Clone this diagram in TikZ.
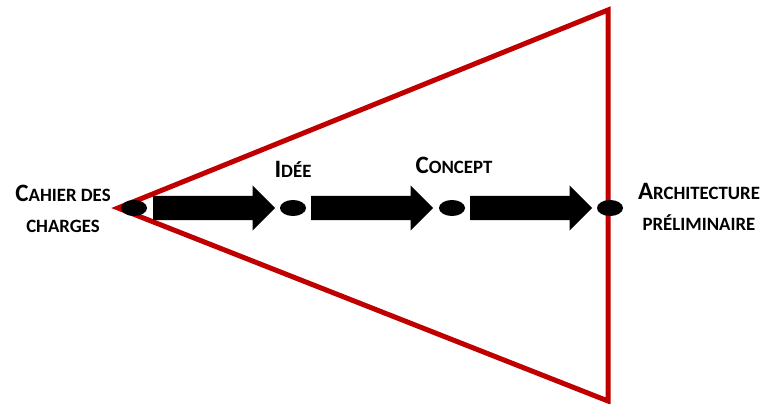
\documentclass[tikz,border=0pt]{standalone}
\usepackage{fontspec}
\setmainfont{Carlito}
\usepackage{xcolor}
\usepackage{tikz}
\usetikzlibrary{shapes.geometric,shapes.arrows}
\definecolor{cadre}{RGB}{192,0,0}
\newcommand{\pcap}[2]{{\fontsize{25}{31}\selectfont #1}{\fontsize{18.8}{31}\selectfont #2}}

\begin{document}
\begin{tikzpicture}[x=1pt,y=-1pt,
  font=\bfseries\fontsize{18.8}{31}\selectfont,
  jalon/.style={ellipse,fill=black,minimum width=26pt,minimum height=16pt,inner sep=0pt},
  fleche/.style={single arrow,fill=black,inner xsep=0pt,inner ysep=12pt,anchor=tail,
    minimum height=122pt,single arrow head extend=10.5pt,single arrow tip angle=90},
  cadrage/.style={draw=cadre,line width=5pt,line join=miter},
  etiquette/.style={align=center,inner sep=0pt}]
\useasboundingbox (0,0) rectangle (764,404);
\coordinate (sommet) at (118,208);
\coordinate (haut) at (608,10);
\coordinate (bas) at (608,401);
\draw[cadrage] (sommet)--(haut)--(bas)--cycle;

\node[jalon] (cdc) at (134,208) {};
\node[jalon] (idee) at (293,208) {};
\node[jalon] (concept) at (452,208) {};
\node[jalon] (archi) at (610,208) {};

\node[fleche] (f1) at (153,208) {};
\node[fleche] (f2) at (311,208) {};
\node[fleche] (f3) at (470,208) {};

\node[etiquette] (t_cdc) at (63,209) {\pcap{C}{AHIER DES}\\\pcap{}{CHARGES}};
\node[etiquette,anchor=base] (t_idee) at (293,177) {\pcap{I}{DÉE}};
\node[etiquette,anchor=base] (t_concept) at (454,173) {\pcap{C}{ONCEPT}};
\node[etiquette] (t_archi) at (699,207) {\pcap{A}{RCHITECTURE}\\\pcap{}{PRÉLIMINAIRE}};
\end{tikzpicture}
\end{document}
